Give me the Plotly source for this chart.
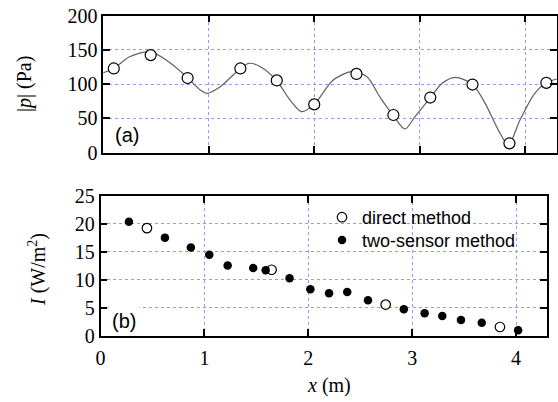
import plotly.graph_objects as go

# ---- data ----
# (a) pressure amplitude |p| (Pa): measured points and fitted curve
p_pts_x = [0.10, 0.45, 0.80, 1.30, 1.645, 2.00, 2.40, 2.75, 3.10, 3.50, 3.85, 4.20]
p_pts_y = [123, 142.5, 109, 123, 105.5, 70.5, 115, 55, 80.5, 99.5, 13.7, 102]
curve_x = [0.0, 0.10, 0.25, 0.44, 0.60, 0.79, 0.92, 0.98, 1.11, 1.30, 1.38, 1.49,
           1.645, 1.77, 1.88, 2.00, 2.18, 2.355, 2.50, 2.62, 2.745, 2.86, 2.955,
           3.10, 3.21, 3.335, 3.50, 3.62, 3.745, 3.84, 3.95, 4.09, 4.20, 4.30]
curve_y = [116.7, 123, 140, 147.5, 135, 111, 91.5, 86.7, 96.4, 123, 130.5, 125.6,
           105, 77, 60, 70.6, 106, 118.3, 111, 81.8, 55, 34.6, 52.6,
           80.3, 101, 110, 99.8, 72, 33, 11.2, 47.7, 86.7, 102, 107.6]

# (b) intensity I (W/m^2)
direct_x = [0.447, 1.647, 2.745, 3.845]
direct_y = [19.25, 11.8, 5.57, 1.56]
two_x = [0.274, 0.62, 0.87, 1.047, 1.224, 1.47, 1.59, 1.82, 2.02, 2.20, 2.375, 2.575,
         2.92, 3.12, 3.29, 3.47, 3.67, 4.02]
two_y = [20.4, 17.55, 15.8, 14.5, 12.55, 12.1, 11.7, 10.3, 8.3, 7.6, 7.8, 6.35,
         4.72, 4.0, 3.53, 2.8, 2.33, 0.96]

x_ticks = [0, 1, 2, 3, 4]
p_ticks = [0, 50, 100, 150, 200]
i_ticks = [0, 5, 10, 15, 20, 25]

W, H = 558, 402
SERIF = "Liberation Serif"
SANS = "Liberation Sans"
GRID = "rgb(150,150,255)"

def px_x(p):
    return p / W

def px_y(p):
    return 1 - p / H

fig = go.Figure()

fig.add_trace(go.Scatter(x=curve_x, y=curve_y, mode="lines",
                         line=dict(color="#606060", width=1.2, shape="spline", smoothing=0.8),
                         xaxis="x", yaxis="y", showlegend=False, hoverinfo="skip"))
fig.add_trace(go.Scatter(x=p_pts_x, y=p_pts_y, mode="markers",
                         marker=dict(symbol="circle", size=11, color="white",
                                     line=dict(color="black", width=1.2)),
                         xaxis="x", yaxis="y", showlegend=False))

fig.add_trace(go.Scatter(x=direct_x, y=direct_y, mode="markers", name="direct method",
                         marker=dict(symbol="circle", size=9.5, color="white",
                                     line=dict(color="black", width=1.2)),
                         xaxis="x2", yaxis="y2", legend="legend"))
fig.add_trace(go.Scatter(x=two_x, y=two_y, mode="markers", name="two-sensor method",
                         marker=dict(symbol="circle", size=8.5, color="black",
                                     line=dict(color="black", width=0)),
                         xaxis="x2", yaxis="y2", legend="legend2"))

axis_common = dict(showline=True, linecolor="black", linewidth=1.5, mirror="ticks",
                   ticks="inside", ticklen=7, tickwidth=1.5, tickcolor="black",
                   showgrid=True, gridcolor=GRID, griddash="dot", gridwidth=1,
                   zeroline=False, automargin=False, ticklabeloverflow="allow",
                   tickfont=dict(family=SERIF, size=20, color="black"))

ann_font = dict(family=SERIF, size=20, color="black")
lab_font = dict(family=SANS, size=20, color="black")

fig.update_layout(
    width=W, height=H,
    margin=dict(l=0, r=0, t=0, b=0, autoexpand=False),
    paper_bgcolor="white", plot_bgcolor="white",
    xaxis=dict(domain=[px_x(103.2), px_x(556.9)], range=[0, 4.3], tickvals=x_ticks,
               showticklabels=False, anchor="y", **axis_common),
    yaxis=dict(domain=[px_y(152.7), px_y(15.7)], range=[0, 200], tickvals=p_ticks,
               anchor="x", **axis_common),
    xaxis2=dict(domain=[px_x(100.5), px_x(547.2)], range=[0, 4.3], tickvals=x_ticks,
                anchor="y2", ticklabelstandoff=4, **axis_common),
    yaxis2=dict(domain=[px_y(335.7), px_y(196)], range=[0, 25], tickvals=i_ticks,
                anchor="x2", **axis_common),
    legend=dict(x=px_x(322), y=px_y(199), xanchor="left", yanchor="top",
                bgcolor="rgba(0,0,0,0)", font=dict(family=SANS, size=18, color="black")),
    legend2=dict(x=px_x(322), y=px_y(221.7), xanchor="left", yanchor="top",
                 bgcolor="rgba(0,0,0,0)", font=dict(family=SANS, size=18, color="black")),
    shapes=[dict(type="rect", xref="paper", yref="paper",
                 x0=px_x(322), x1=px_x(519), y0=px_y(246), y1=px_y(197),
                 fillcolor="white", line=dict(width=0), layer="between")],
    annotations=[
        dict(text="|<i>p</i>| (Pa)", x=px_x(25), y=px_y(84), textangle=-90, font=ann_font),
        dict(text="<i>I</i> (W/m<sup>2</sup>)", x=px_x(37), y=px_y(270), textangle=-90,
             font=ann_font),
        dict(text="<i>x</i> (m)", x=px_x(329), y=px_y(385), font=ann_font),
        dict(text="(a)", x=px_x(127), y=px_y(135), font=lab_font),
        dict(text="(b)", x=px_x(123.5), y=px_y(320.5), bgcolor="white", borderpad=3,
             font=lab_font),
    ],
)
fig.update_annotations(xref="paper", yref="paper", xanchor="center", yanchor="middle",
                       showarrow=False)

# remove the browser's default 8px body margin so the figure fills the window
fig.write_html("out.html", config={"displayModeBar": False},
               post_script="document.body.style.margin='0px';document.body.style.overflow='hidden';")
